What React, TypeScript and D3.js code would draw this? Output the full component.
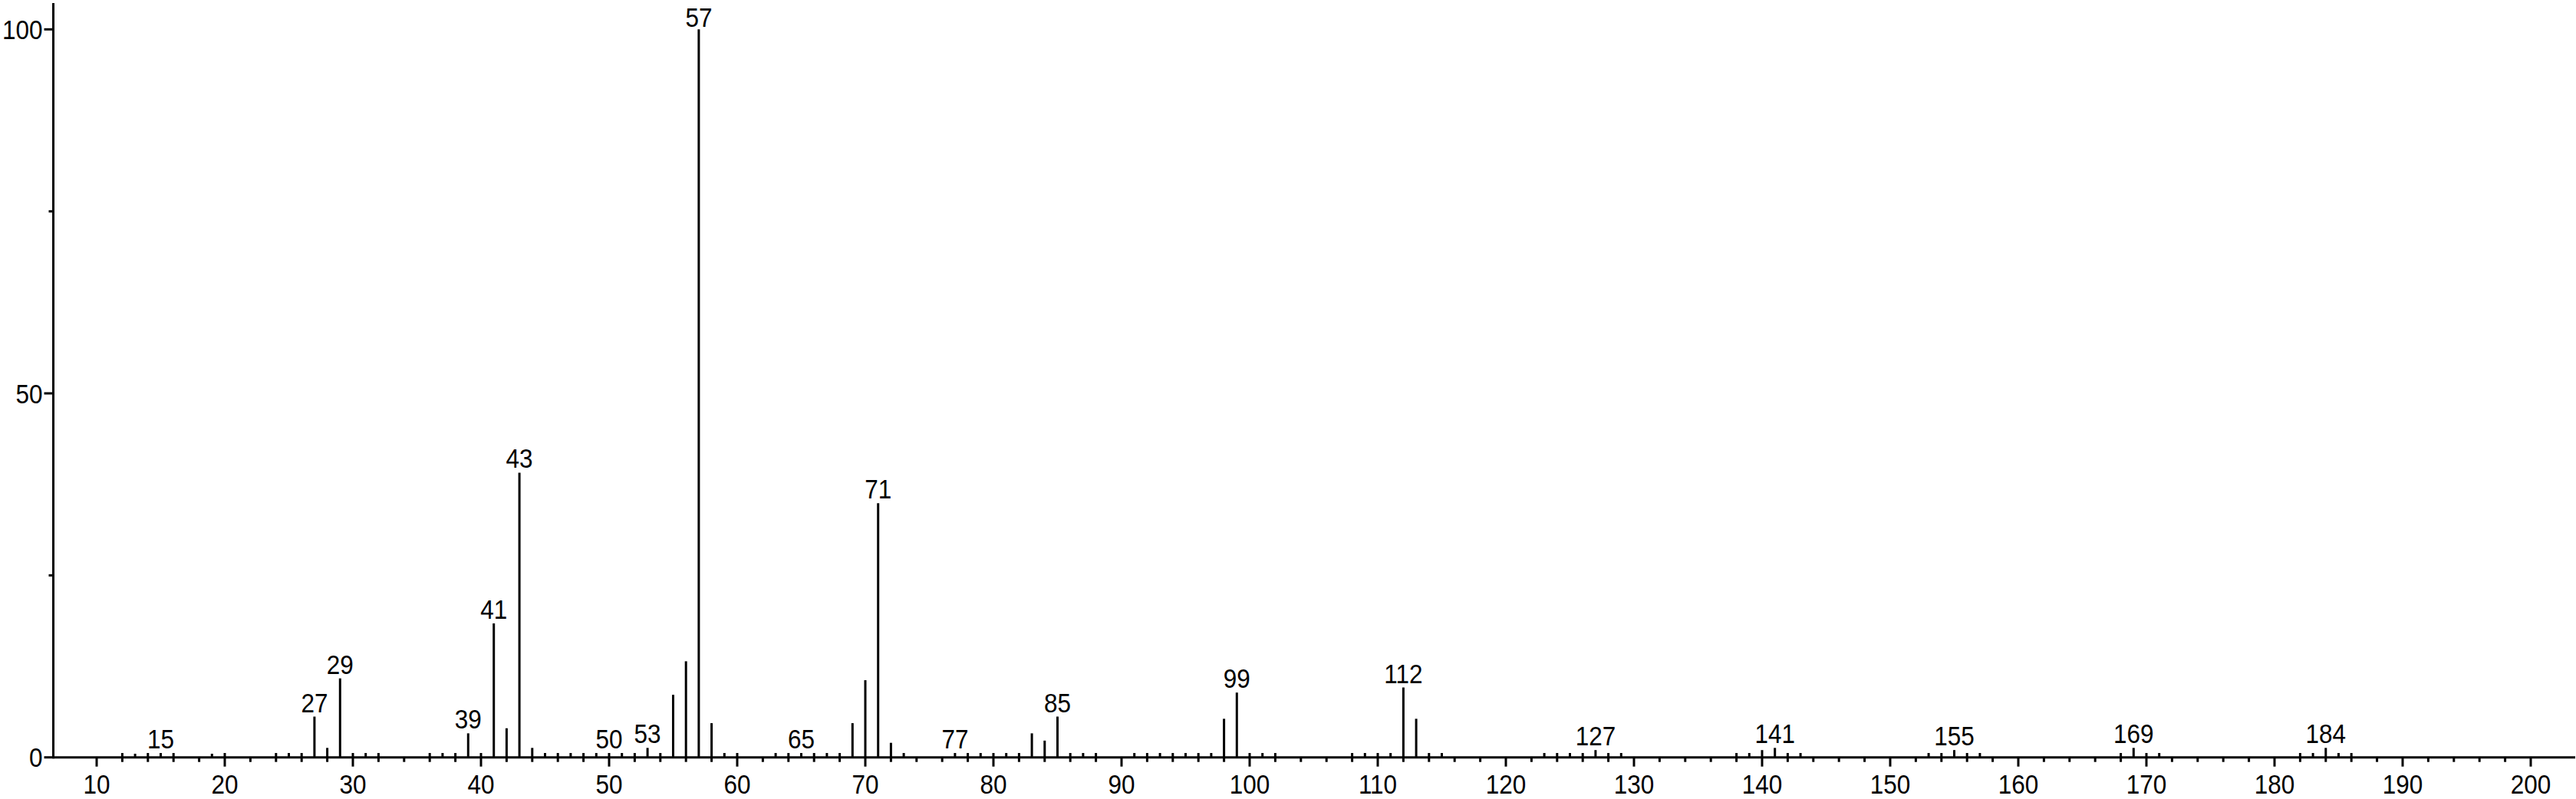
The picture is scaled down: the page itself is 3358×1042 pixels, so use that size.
import React from "react";
import * as d3 from "d3";

// m/z values and relative intensities (%)
const mz: number[] = [
  12, 13, 14, 15, 16, 19, 20, 24, 25, 26, 27, 28, 29, 30, 31, 32, 36, 37, 38, 39,
  40, 41, 42, 43, 44, 45, 46, 47, 48, 49, 50, 51, 52, 53, 54, 55, 56, 57, 58, 59,
  60, 63, 64, 65, 66, 67, 68, 69, 70, 71, 72, 73, 77, 78, 79, 80, 81, 82, 83, 84,
  85, 86, 87, 88, 91, 92, 93, 94, 95, 96, 97, 98, 99, 100, 101, 102, 108, 109, 110, 111,
  112, 113, 114, 115, 123, 124, 125, 126, 127, 128, 129, 138, 139, 140, 141, 142, 143, 153, 154, 155,
  156, 157, 168, 169, 170, 171, 182, 183, 184, 185, 186,
];
const intensity: number[] = [
  0.6, 0.5, 0.6, 0.6, 0.6, 0.5, 0.6, 0.6, 0.6, 0.6, 5.6, 1.3, 10.85, 0.6, 0.6, 0.6, 0.6, 0.6, 0.6, 3.3,
  0.6, 18.4, 4.0, 39.1, 1.3, 0.6, 0.6, 0.6, 0.6, 0.6, 0.6, 0.6, 0.6, 1.3, 0.6, 8.6, 13.2, 100, 4.7, 0.6,
  0.6, 0.6, 0.6, 0.6, 0.6, 0.6, 0.6, 4.7, 10.6, 34.9, 2.0, 0.6, 0.6, 0.6, 0.6, 0.6, 0.6, 0.6, 3.3, 2.3,
  5.6, 0.6, 0.6, 0.6, 0.6, 0.6, 0.6, 0.6, 0.6, 0.6, 0.6, 5.3, 8.9, 0.6, 0.6, 0.6, 0.6, 0.6, 0.6, 0.6,
  9.6, 5.3, 0.6, 0.6, 0.6, 0.6, 0.6, 0.6, 1.0, 0.6, 0.6, 0.6, 0.6, 1.0, 1.3, 0.6, 0.6, 0.6, 0.6, 1.0,
  0.6, 0.6, 0.6, 1.3, 0.6, 0.6, 0.6, 0.6, 1.3, 0.6, 0.6,
];
const labeledPeaks: number[] = [15, 27, 29, 39, 41, 43, 50, 53, 57, 65, 71, 77, 85, 99, 112, 127, 141, 155, 169, 184];
const xMajorTicks: number[] = d3.range(10, 201, 10);
const xMinorTicks: number[] = d3.range(12, 200, 2).filter((v) => v % 10 !== 0);
const yMajorTicks: number[] = [0, 50, 100];
const yMinorTicks: number[] = [25, 75];

const W = 3358;
const H = 1042;
const FONT = "'Liberation Sans', Arial, Helvetica, sans-serif";
const FS = 35;
const SX = 0.9; // condensed glyphs as in the reference

function Label(props: { x: number; y: number; anchor: "start" | "middle" | "end"; dy?: string; children: React.ReactNode }) {
  return (
    <g transform={`translate(${props.x},${props.y}) scale(${SX},1)`}>
      <text x={0} y={0} dy={props.dy} textAnchor={props.anchor} fontSize={FS} fill="#000">
        {props.children}
      </text>
    </g>
  );
}

export default function App() {
  const x = d3.scaleLinear().domain([10, 200]).range([126, 3299]);
  const y = d3.scaleLinear().domain([0, 100]).range([987.7, 38.3]);
  const x0 = 69.5;
  const y0 = y(0);
  const peaks = mz.map((m, i) => ({ m, v: intensity[i] }));
  const stroke = "#000";

  return (
    <svg
      width={W}
      height={H}
      style={{ position: "absolute", left: 0, top: 0, background: "#fff" }}
      fontFamily={FONT}
    >
      <rect x={0} y={0} width={W} height={H} fill="#fff" />
      {/* peaks */}
      {peaks.map((p) => (
        <line
          key={"p" + p.m}
          x1={x(p.m)}
          x2={x(p.m)}
          y1={y0}
          y2={y(p.v)}
          stroke={stroke}
          strokeWidth={3}
        />
      ))}
      {/* peak labels */}
      {peaks
        .filter((p) => labeledPeaks.includes(p.m))
        .map((p) => (
          <Label key={"l" + p.m} x={x(p.m)} y={Math.max(35, y(p.v) - 6)} anchor="middle">
            {p.m}
          </Label>
        ))}
      {/* y axis */}
      <line x1={x0} x2={x0} y1={4} y2={y0 + 1.5} stroke={stroke} strokeWidth={3} />
      {yMajorTicks.map((t) => (
        <g key={"ym" + t}>
          <line x1={x0 - 12} x2={x0} y1={y(t)} y2={y(t)} stroke={stroke} strokeWidth={3} />
          <Label x={x0 - 14} y={y(t)} dy="0.36em" anchor="end">
            {t}
          </Label>
        </g>
      ))}
      {yMinorTicks.map((t) => (
        <line key={"yn" + t} x1={x0 - 6} x2={x0} y1={y(t)} y2={y(t)} stroke={stroke} strokeWidth={3} />
      ))}
      {/* x axis */}
      <line x1={x0} x2={3357} y1={y0} y2={y0} stroke={stroke} strokeWidth={3} />
      {xMajorTicks.map((t) => (
        <g key={"xm" + t}>
          <line x1={x(t)} x2={x(t)} y1={y0} y2={y0 + 12} stroke={stroke} strokeWidth={3} />
          <Label x={x(t)} y={1035} anchor="middle">
            {t}
          </Label>
        </g>
      ))}
      {xMinorTicks.map((t) => (
        <line key={"xn" + t} x1={x(t)} x2={x(t)} y1={y0} y2={y0 + 6} stroke={stroke} strokeWidth={3} />
      ))}
    </svg>
  );
}
